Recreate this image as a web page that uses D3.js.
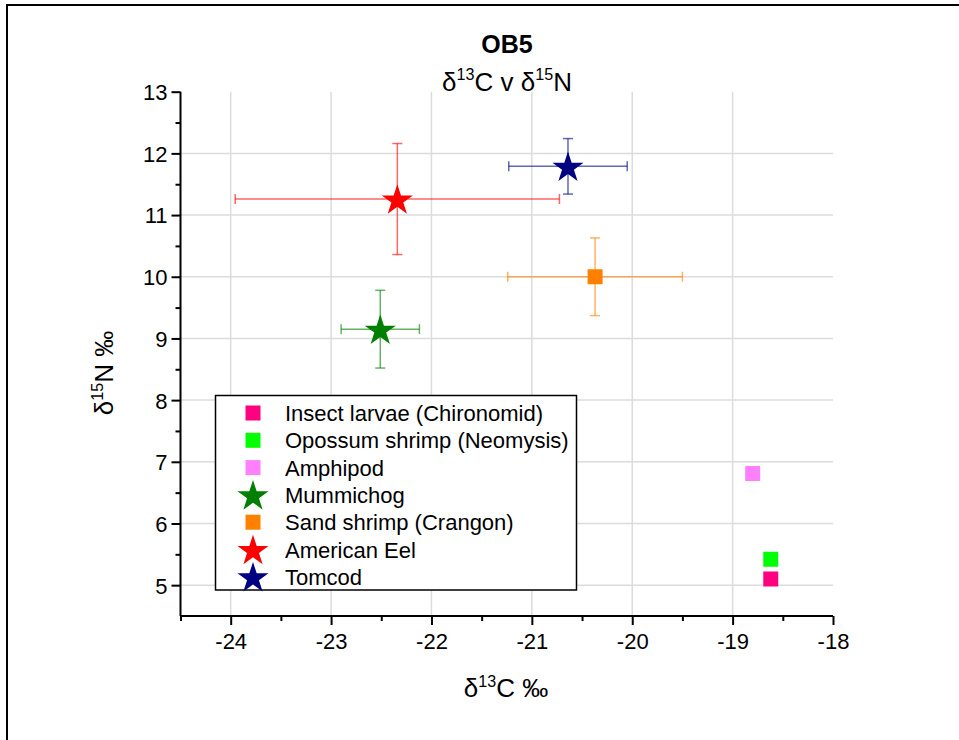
<!DOCTYPE html>
<html>
<head>
<meta charset="utf-8">
<script src="https://cdn.jsdelivr.net/npm/d3@7"></script>
<style>
  html, body { margin: 0; padding: 0; background: #fff; }
  svg { display: block; font-family: "Liberation Sans", Arial, sans-serif; }
</style>
</head>
<body>
<svg id="chart" width="959" height="740"></svg>
<script>
// ---- data ----
const species = ["Insect larvae (Chironomid)", "Opossum shrimp (Neomysis)", "Amphipod",
                 "Mummichog", "Sand shrimp (Crangon)", "American Eel", "Tomcod"];
const colors  = ["#FF0080", "#00FF00", "#FF80FF", "#008000", "#FF8000", "#FF0000", "#000080"];
const shapes  = ["square", "square", "square", "star", "square", "star", "star"];
const d13C    = [-18.62, -18.62, -18.80, -22.51, -20.37, -22.34, -20.64];
const d15N    = [5.10, 5.42, 6.81, 9.15, 10.00, 11.26, 11.79];
const d13Cerr = [0, 0, 0, 0.39, 0.87, 1.615, 0.59];
const d15Nerr = [0, 0, 0, 0.63, 0.63, 0.90, 0.45];
const xTicks  = [-24, -23, -22, -21, -20, -19, -18];
const yTicks  = [5, 6, 7, 8, 9, 10, 11, 12, 13];

(function () {
const svg = d3.select("#chart");
const pL = 180.5, pR = 833, pT = 91.7, pB = 616;
const x = d3.scaleLinear().domain([-24.5, -18]).range([pL, pR]);
const y = d3.scaleLinear().domain([4.5, 13]).range([pB, pT]);
const fmt = v => String(v);

// outer frame
svg.append("path").attr("d", "M7,745V5H965").attr("fill", "none")
  .attr("stroke", "#000").attr("stroke-width", 2);

// gridlines
const grid = svg.append("g").attr("stroke", "#dcdcdc").attr("stroke-width", 1.5);
xTicks.filter(v => v < -18).forEach(v => grid.append("line")
  .attr("x1", x(v)).attr("x2", x(v)).attr("y1", pT).attr("y2", pB));
yTicks.filter(v => v < 13).forEach(v => grid.append("line")
  .attr("x1", pL).attr("x2", pR).attr("y1", y(v)).attr("y2", y(v)));

// rich text helper
function rich(g, parts, size) {
  const t = g.append("text").attr("font-size", size);
  let shifted = false;
  parts.forEach(p => {
    const ts = t.append("tspan").text(p.t);
    if (p.sup) {
      ts.attr("font-size", size * 0.62).attr("dy", -size * 0.4);
      shifted = true;
    } else if (shifted) {
      ts.attr("dy", size * 0.4);
      shifted = false;
    }
  });
  return t;
}

const ERR = 5;
const data = species.map((s, i) => ({s, c: colors[i], sh: shapes[i], x: d13C[i], y: d15N[i], ex: d13Cerr[i], ey: d15Nerr[i]}));

// error bars
const eb = svg.append("g").attr("stroke-width", 1.5).attr("fill", "none");
data.filter(d => d.ex > 0 || d.ey > 0).forEach(d => {
  const g = eb.append("g").attr("stroke", d.c).attr("stroke-opacity", 0.6);
  const cx = x(d.x), cy = y(d.y);
  const x0 = x(d.x - d.ex), x1 = x(d.x + d.ex), y0 = y(d.y - d.ey), y1 = y(d.y + d.ey);
  g.append("line").attr("x1", x0).attr("x2", x1).attr("y1", cy).attr("y2", cy);
  g.append("line").attr("x1", x0).attr("x2", x0).attr("y1", cy - ERR).attr("y2", cy + ERR);
  g.append("line").attr("x1", x1).attr("x2", x1).attr("y1", cy - ERR).attr("y2", cy + ERR);
  g.append("line").attr("x1", cx).attr("x2", cx).attr("y1", y0).attr("y2", y1);
  g.append("line").attr("x1", cx - ERR).attr("x2", cx + ERR).attr("y1", y0).attr("y2", y0);
  g.append("line").attr("x1", cx - ERR).attr("x2", cx + ERR).attr("y1", y1).attr("y2", y1);
});

const starPath = d3.symbol().type(d3.symbolStar).size(300)();
const sqPath = d3.symbol().type(d3.symbolSquare).size(225)();
function marker(g, d, px, py) {
  g.append("path").attr("d", d.sh === "star" ? starPath : sqPath)
    .attr("transform", `translate(${px},${py + (d.sh === "star" ? 1.5 : 0)})`)
    .attr("fill", d.c);
}

// markers
const mk = svg.append("g");
data.forEach(d => marker(mk, d, x(d.x), y(d.y)));

// axes
const xAxis = svg.append("g").attr("transform", `translate(0,${pB})`)
  .call(d3.axisBottom(x).tickValues(xTicks).tickSize(9).tickFormat(fmt));
const xMinor = svg.append("g").attr("transform", `translate(0,${pB})`)
  .call(d3.axisBottom(x).tickValues(d3.range(-24.5, -18, 1)).tickSize(5).tickFormat(""));
const yAxis = svg.append("g").attr("transform", `translate(${pL},0)`)
  .call(d3.axisLeft(y).tickValues(yTicks).tickSize(9).tickFormat(fmt));
const yMinor = svg.append("g").attr("transform", `translate(${pL},0)`)
  .call(d3.axisLeft(y).tickValues(d3.range(5.5, 13, 1)).tickSize(5).tickFormat(""));

[xAxis, xMinor, yAxis, yMinor].forEach(a => {
  a.selectAll(".domain").attr("stroke", "#000").attr("stroke-width", 2);
  a.selectAll(".tick line").attr("stroke", "#000").attr("stroke-width", 2);
  a.selectAll("text").attr("font-family", "Liberation Sans, Arial, sans-serif")
    .attr("font-size", 22).attr("fill", "#000");
});
xMinor.select(".domain").remove();
yMinor.select(".domain").remove();
xAxis.select(".domain").attr("d", `M${pL},0H${pR}`);
yAxis.select(".domain").attr("d", `M0,${pB}V${pT}`);
xAxis.selectAll(".tick text").attr("dy", null).attr("y", 33);
yAxis.selectAll(".tick text").attr("x", -13).attr("dy", "0.36em");

// titles
svg.append("text").attr("x", 507).attr("y", 52.5).attr("text-anchor", "middle")
  .attr("font-size", 25).attr("font-weight", "bold").text("OB5");
rich(svg, [{t: "δ"}, {t: "13", sup: true}, {t: "C v δ"}, {t: "15", sup: true}, {t: "N"}], 26)
  .attr("x", 507).attr("y", 90.5).attr("text-anchor", "middle");
rich(svg, [{t: "δ"}, {t: "13", sup: true}, {t: "C ‰"}], 26)
  .attr("x", 506).attr("y", 697).attr("text-anchor", "middle");
rich(svg.append("g").attr("transform", "translate(113,373) rotate(-90)"),
  [{t: "δ"}, {t: "15", sup: true}, {t: "N ‰"}], 26)
  .attr("x", 0).attr("y", 0).attr("text-anchor", "middle");

// legend
const lg = svg.append("g");
lg.append("rect").attr("x", 215.5).attr("y", 395.5).attr("width", 361).attr("height", 194.5)
  .attr("fill", "#fff").attr("stroke", "#000").attr("stroke-width", 1.5);
data.forEach((d, i) => {
  const cy = 413 + i * 27.3;
  marker(lg, d, 253, cy);
  lg.append("text").attr("x", 285).attr("y", cy + 8).attr("font-size", 22).text(d.s);
});
})();
</script>
</body>
</html>
